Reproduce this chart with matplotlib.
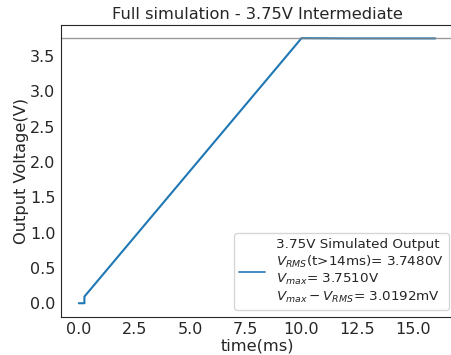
import matplotlib
matplotlib.use("Agg")
import matplotlib.pyplot as plt
import seaborn as sns

sns.set_style("white")
plt.rcParams['font.family'] = ['DejaVu Sans']

# Simulated output voltage (V) vs time (ms)
time_ms = [0.0, 0.25, 0.25, 10.0, 12.0, 14.0, 16.0]
voltage = [0.0, 0.0, 0.094, 3.751, 3.748, 3.748, 3.748]
v_target = 3.75

legend_label = ("3.75V Simulated Output\n"
                "$V_{RMS}$(t>14ms)= 3.7480V\n"
                "$V_{max}$= 3.7510V\n"
                "$V_{max}-V_{RMS}$= 3.0192mV")

fig = plt.figure(figsize=(4.51, 3.55), dpi=100)
ax = fig.add_axes([0.1353, 0.108, 0.869, 0.822])

ax.plot(time_ms, voltage, color="#1f77b4", lw=1.5, label=legend_label)
ax.axhline(v_target, color="grey", lw=1.0, alpha=0.8)

ax.set_xlim(-0.8, 16.8)
ax.set_ylim(-0.19, 3.94)
ax.set_xticks([0.0, 2.5, 5.0, 7.5, 10.0, 12.5, 15.0])
ax.set_yticks([0.0, 0.5, 1.0, 1.5, 2.0, 2.5, 3.0, 3.5])
ax.tick_params(labelsize=11.5, colors=".15", length=0, pad=4)

ax.set_title("Full simulation - 3.75V Intermediate", fontsize=11.7, color=".15", pad=4)
ax.set_xlabel("time(ms)", fontsize=11.7, color=".15", labelpad=1)
ax.set_ylabel("Output Voltage(V)", fontsize=11.7, color=".15", labelpad=1)

leg = ax.legend(loc="lower right", fontsize=9.7, frameon=True, handlelength=1.9,
                bbox_to_anchor=(1.007, 0.0), labelspacing=0.22)
for line in leg.get_lines():
    line.set_linewidth(1.2)

fig.savefig("out.png", dpi=100)
